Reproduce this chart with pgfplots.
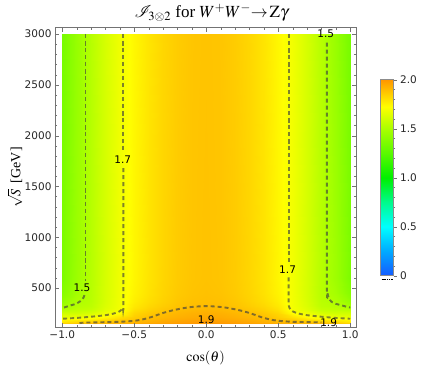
\documentclass[border=0pt]{standalone}
\usepackage{mathptmx}
\usepackage{fontspec}
\setmainfont{Liberation Serif}
\newfontfamily\tickfont{DejaVu Sans}
\usepackage{pgfplots}
\pgfplotsset{compat=1.18}

\pgfplotsset{
  colormap={mm}{rgb255(0)=(20,90,255) rgb255(5)=(0,170,255) rgb255(10)=(0,255,255)
    rgb255(15)=(0,250,140) rgb255(20)=(0,240,0) rgb255(25)=(90,250,0)
    rgb255(30)=(170,255,0) rgb255(34.5)=(255,255,0) rgb255(40)=(255,150,0)},
  cline/.style={no marks, line width=1.9pt, draw=black!75, draw opacity=0.65,
    dash pattern=on 4pt off 3pt, smooth, tension=0.4},
}
\tikzset{clabel/.style={font=\tickfont\fontsize{10.5}{11}\selectfont, inner sep=0pt}}

\begin{document}
\begin{tikzpicture}
\useasboundingbox (-55pt,-43.5pt) rectangle (368pt,327.5pt);
\begin{axis}[
  at={(0pt,0pt)}, anchor=south west,
  scale only axis, width=301pt, height=299.8pt,
  xmin=-1.05, xmax=1.04, ymin=112, ymax=3062,
  axis on top,
  axis line style={black!55},
  tick style={black!55},
  major tick length=4pt, minor tick length=2.5pt,
  tick align=inside,
  xtick={-1,-0.5,0,0.5,1},
  xticklabels={−1.0,−0.5,0.0,0.5,1.0},
  minor x tick num=4,
  ytick={500,1000,1500,2000,2500,3000},
  yticklabels={500,1000,1500,2000,2500,3000},
  minor y tick num=4,
  ticklabel style={font=\tickfont\fontsize{10.5}{11}\selectfont, text=black!85},
  xlabel={$\cos(\theta)$},
  xlabel style={font=\fontsize{14}{15}\selectfont, at={(rel axis cs:0.5,0)}, anchor=center, yshift=-30.5pt},
  colormap name=mm,
  point meta min=0, point meta max=2,
  colorbar,
  colorbar style={
    at={(parent axis.north east)}, anchor=north west,
    xshift=16pt, yshift=-52pt,
    scale only axis, width=13pt, height=196pt,
    ytick={0,0.5,1,1.5,2},
    yticklabels={0,0.5,1.0,1.5,2.0},
    minor y tick num=4,
    ytick pos=right, yticklabel pos=right,
    tick align=outside,
    major tick length=3pt, minor tick length=1.8pt,
    axis line style={black!45},
    tick style={black!55},
    yticklabel style={font=\tickfont\fontsize{10.5}{11}\selectfont, text=black!85},
    after end axis/.code={
      \draw[black, line width=1.2pt, dash pattern=on 1.2pt off 0.6pt]
        (rel axis cs:0,0) ++(1pt,-4pt) -- ++(11pt,0);
    },
  },
]
\addplot[surf, shader=interp, mesh/cols=21, point meta=explicit] coordinates {
(-1,155)[1.830] (-0.9,155)[1.870] (-0.8,155)[1.905] (-0.7,155)[1.915] (-0.6,155)[1.925] (-0.5,155)[1.940] (-0.4,155)[1.955] (-0.3,155)[1.970] (-0.2,155)[1.985] (-0.1,155)[1.995] (0,155)[2.000] (0.1,155)[1.995] (0.2,155)[1.985] (0.3,155)[1.970] (0.4,155)[1.955] (0.5,155)[1.940] (0.6,155)[1.925] (0.7,155)[1.915] (0.8,155)[1.905] (0.9,155)[1.870] (1,155)[1.830]
(-1,170)[1.790] (-0.9,170)[1.830] (-0.8,170)[1.860] (-0.7,170)[1.885] (-0.6,170)[1.900] (-0.5,170)[1.915] (-0.4,170)[1.935] (-0.3,170)[1.955] (-0.2,170)[1.970] (-0.1,170)[1.980] (0,170)[1.985] (0.1,170)[1.980] (0.2,170)[1.970] (0.3,170)[1.955] (0.4,170)[1.935] (0.5,170)[1.915] (0.6,170)[1.900] (0.7,170)[1.885] (0.8,170)[1.860] (0.9,170)[1.830] (1,170)[1.790]
(-1,185)[1.750] (-0.9,185)[1.780] (-0.8,185)[1.800] (-0.7,185)[1.840] (-0.6,185)[1.870] (-0.5,185)[1.895] (-0.4,185)[1.920] (-0.3,185)[1.940] (-0.2,185)[1.955] (-0.1,185)[1.967] (0,185)[1.972] (0.1,185)[1.967] (0.2,185)[1.955] (0.3,185)[1.940] (0.4,185)[1.920] (0.5,185)[1.895] (0.6,185)[1.870] (0.7,185)[1.840] (0.8,185)[1.800] (0.9,185)[1.780] (1,185)[1.750]
(-1,200)[1.710] (-0.9,200)[1.730] (-0.8,200)[1.750] (-0.7,200)[1.790] (-0.6,200)[1.840] (-0.5,200)[1.875] (-0.4,200)[1.905] (-0.3,200)[1.926] (-0.2,200)[1.942] (-0.1,200)[1.955] (0,200)[1.960] (0.1,200)[1.955] (0.2,200)[1.942] (0.3,200)[1.926] (0.4,200)[1.905] (0.5,200)[1.875] (0.6,200)[1.840] (0.7,200)[1.790] (0.8,200)[1.750] (0.9,200)[1.730] (1,200)[1.710]
(-1,220)[1.660] (-0.9,220)[1.670] (-0.8,220)[1.695] (-0.7,220)[1.740] (-0.6,220)[1.800] (-0.5,220)[1.855] (-0.4,220)[1.890] (-0.3,220)[1.912] (-0.2,220)[1.930] (-0.1,220)[1.943] (0,220)[1.948] (0.1,220)[1.943] (0.2,220)[1.930] (0.3,220)[1.912] (0.4,220)[1.890] (0.5,220)[1.855] (0.6,220)[1.800] (0.7,220)[1.740] (0.8,220)[1.695] (0.9,220)[1.670] (1,220)[1.660]
(-1,250)[1.600] (-0.9,250)[1.600] (-0.8,250)[1.620] (-0.7,250)[1.680] (-0.6,250)[1.725] (-0.5,250)[1.830] (-0.4,250)[1.867] (-0.3,250)[1.895] (-0.2,250)[1.914] (-0.1,250)[1.929] (0,250)[1.934] (0.1,250)[1.929] (0.2,250)[1.914] (0.3,250)[1.895] (0.4,250)[1.867] (0.5,250)[1.830] (0.6,250)[1.725] (0.7,250)[1.680] (0.8,250)[1.620] (0.9,250)[1.600] (1,250)[1.600]
(-1,280)[1.545] (-0.9,280)[1.560] (-0.8,280)[1.575] (-0.7,280)[1.645] (-0.6,280)[1.697] (-0.5,280)[1.805] (-0.4,280)[1.847] (-0.3,280)[1.876] (-0.2,280)[1.900] (-0.1,280)[1.914] (0,280)[1.920] (0.1,280)[1.914] (0.2,280)[1.900] (0.3,280)[1.876] (0.4,280)[1.847] (0.5,280)[1.805] (0.6,280)[1.697] (0.7,280)[1.645] (0.8,280)[1.575] (0.9,280)[1.560] (1,280)[1.545]
(-1,320)[1.480] (-0.9,320)[1.530] (-0.8,320)[1.550] (-0.7,320)[1.628] (-0.6,320)[1.692] (-0.5,320)[1.783] (-0.4,320)[1.827] (-0.3,320)[1.858] (-0.2,320)[1.882] (-0.1,320)[1.897] (0,320)[1.902] (0.1,320)[1.897] (0.2,320)[1.882] (0.3,320)[1.858] (0.4,320)[1.827] (0.5,320)[1.783] (0.6,320)[1.692] (0.7,320)[1.628] (0.8,320)[1.550] (0.9,320)[1.530] (1,320)[1.480]
(-1,370)[1.430] (-0.9,370)[1.510] (-0.8,370)[1.540] (-0.7,370)[1.620] (-0.6,370)[1.690] (-0.5,370)[1.767] (-0.4,370)[1.812] (-0.3,370)[1.845] (-0.2,370)[1.872] (-0.1,370)[1.888] (0,370)[1.893] (0.1,370)[1.888] (0.2,370)[1.872] (0.3,370)[1.845] (0.4,370)[1.812] (0.5,370)[1.767] (0.6,370)[1.690] (0.7,370)[1.620] (0.8,370)[1.540] (0.9,370)[1.510] (1,370)[1.430]
(-1,450)[1.390] (-0.9,450)[1.482] (-0.8,450)[1.536] (-0.7,450)[1.617] (-0.6,450)[1.688] (-0.5,450)[1.755] (-0.4,450)[1.801] (-0.3,450)[1.837] (-0.2,450)[1.864] (-0.1,450)[1.881] (0,450)[1.887] (0.1,450)[1.881] (0.2,450)[1.864] (0.3,450)[1.837] (0.4,450)[1.801] (0.5,450)[1.755] (0.6,450)[1.688] (0.7,450)[1.617] (0.8,450)[1.536] (0.9,450)[1.482] (1,450)[1.390]
(-1,600)[1.360] (-0.9,600)[1.460] (-0.8,600)[1.534] (-0.7,600)[1.615] (-0.6,600)[1.687] (-0.5,600)[1.748] (-0.4,600)[1.796] (-0.3,600)[1.833] (-0.2,600)[1.860] (-0.1,600)[1.877] (0,600)[1.883] (0.1,600)[1.877] (0.2,600)[1.860] (0.3,600)[1.833] (0.4,600)[1.796] (0.5,600)[1.748] (0.6,600)[1.687] (0.7,600)[1.615] (0.8,600)[1.534] (0.9,600)[1.460] (1,600)[1.360]
(-1,3000)[1.340] (-0.9,3000)[1.443] (-0.8,3000)[1.534] (-0.7,3000)[1.615] (-0.6,3000)[1.686] (-0.5,3000)[1.745] (-0.4,3000)[1.794] (-0.3,3000)[1.831] (-0.2,3000)[1.858] (-0.1,3000)[1.875] (0,3000)[1.880] (0.1,3000)[1.875] (0.2,3000)[1.858] (0.3,3000)[1.831] (0.4,3000)[1.794] (0.5,3000)[1.745] (0.6,3000)[1.686] (0.7,3000)[1.615] (0.8,3000)[1.534] (0.9,3000)[1.443] (1,3000)[1.340]
};

% contour 1.5
\addplot[cline] coordinates {(-0.838,3000) (-0.838,570)};
\addplot[cline] coordinates {(-0.845,430) (-0.855,400) (-0.875,370) (-0.905,345) (-0.94,330) (-0.975,314) (-1,304)};
\addplot[cline] coordinates {(0.838,2915) (0.838,560) (0.842,450) (0.852,400) (0.87,365) (0.9,345) (0.94,330) (0.975,316) (1,308)};
% contour 1.7
\addplot[cline] coordinates {(-0.575,3000) (-0.575,1840)};
\addplot[cline] coordinates {(-0.575,1680) (-0.575,360) (-0.58,305) (-0.6,272) (-0.64,250) (-0.7,233) (-0.8,218) (-0.9,206) (-1,198)};
\addplot[cline] coordinates {(0.572,3000) (0.572,750)};
\addplot[cline] coordinates {(0.572,605) (0.572,360) (0.578,305) (0.598,272) (0.64,250) (0.7,233) (0.8,218) (0.9,206) (1,198)};
% contour 1.9
\addplot[cline] coordinates {(-0.88,155) (-0.85,160) (-0.75,163) (-0.6,168) (-0.5,178) (-0.44,192) (-0.38,215) (-0.3,255) (-0.22,285) (-0.12,311) (0,323) (0.12,311) (0.22,285) (0.3,255) (0.38,215) (0.44,192) (0.5,178) (0.6,168) (0.75,164) (0.8,162)};

\node[clabel] at (axis cs:-0.862,500) {1.5};
\node[clabel] at (axis cs:0.83,3000) {1.5};
\node[clabel] at (axis cs:-0.58,1760) {1.7};
\node[clabel] at (axis cs:0.565,677) {1.7};
\node[clabel] at (axis cs:0,186) {1.9};
\node[clabel] at (axis cs:0.85,163) {1.9};
\end{axis}
\node[rotate=90, inner sep=0pt, font=\fontsize{14}{15}\selectfont] at (-40pt,150pt) {$\sqrt{S}$\ \,[GeV]};
\node[font=\fontsize{17}{18}\selectfont] at (156.5pt,314.5pt) {$\mathcal{I}_{3\otimes 2}$ for $W^{+}W^{-}\!\!\to\!\mathrm{Z}\gamma$};
\end{tikzpicture}
\end{document}
